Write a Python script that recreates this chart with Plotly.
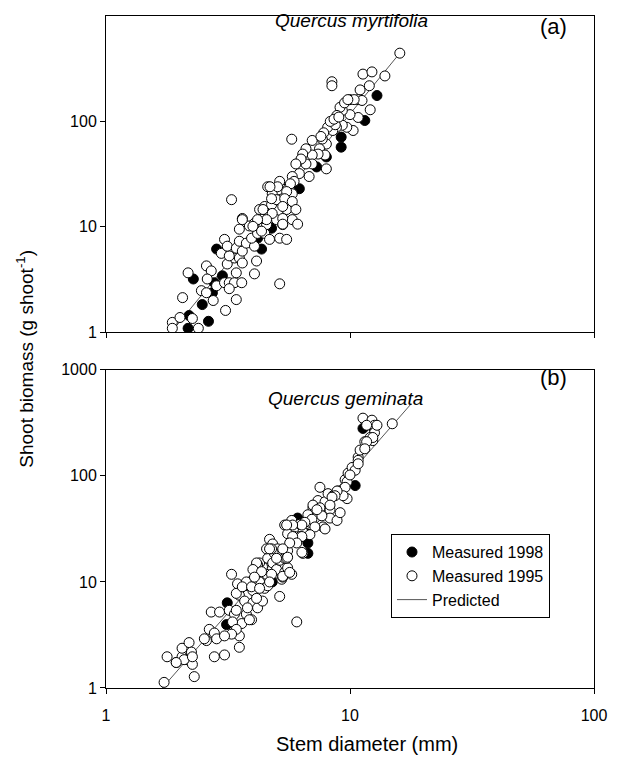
import plotly.graph_objects as go

# ---------------- Panel (a): Quercus myrtifolia ----------------
a98_x = [2.28, 2.17, 2.19, 2.63, 2.48, 2.73, 2.84, 2.78, 3.0, 4.18, 4.34, 4.77, 5.15, 6.2, 7.3, 8.0, 9.2, 9.2, 11.5, 12.9]
a98_y = [3.2, 1.09, 1.44, 1.27, 1.83, 2.37, 6.15, 2.95, 3.43, 7.8, 6.15, 9.7, 18.1, 23, 37, 46, 71, 57, 102, 176]

a95_x = [3.27, 2.17, 2.06, 1.87, 1.87, 2.01, 2.39, 2.26, 2.46, 2.58, 2.75, 3.09, 3.42, 2.58, 2.70, 2.97, 3.06, 2.60,
         2.84, 3.06, 3.2, 3.36, 3.6, 3.2, 3.42, 3.14, 3.36, 3.52, 3.2, 3.14, 3.42, 3.62, 3.62, 3.52, 3.76, 4.06, 4.06,
         3.95, 4.14, 4.18, 3.52, 3.62, 3.87, 4.06, 4.47, 4.68, 4.55, 4.34, 4.26, 4.47, 4.77, 5.0, 5.3, 5.15, 5.5, 5.15,
         4.6, 4.8, 5.15, 5.3, 5.5, 5.0, 5.77, 8.43, 8.43,
         11.3, 12.3, 13.9, 11.0, 12.0, 10.8, 10.0, 11.2, 12.1, 10.3, 10.8, 10.0, 9.3, 9.1, 9.5, 9.7, 9.3, 8.8, 8.5, 8.1,
         8.0, 7.7, 7.0, 7.5, 7.9, 8.0, 7.4, 7.0, 6.6, 7.0, 6.6, 6.4, 6.3, 6.8, 6.0, 6.2, 5.8, 5.9, 5.7, 5.8, 5.5, 5.15,
         5.05, 4.7, 5.4, 5.8, 6.0, 5.8, 6.1, 5.3, 4.77, 4.4, 4.8, 5.3, 5.3, 4.55, 4.18, 4.0, 3.62, 4.34,
         16.0, 10.4, 9.8, 8.84, 8.7, 8.3, 8.6, 9.0, 7.8, 7.6]
a95_y = [18.1, 3.66, 2.13, 1.24, 1.09, 1.38, 1.09, 1.35, 2.48, 2.37, 2.0, 1.61, 2.04, 4.26, 3.82, 5.6, 7.6, 3.2,
         2.76, 2.95, 2.95, 2.95, 2.95, 2.59, 3.66, 4.44, 5.06, 5.06, 5.3, 6.55, 6.27, 5.88, 4.54, 7.3, 7.0, 3.58, 6.55,
         7.8, 4.74, 8.66, 9.5, 12.0, 10.2, 10.8, 8.66, 7.6, 10.5, 12.0, 14.6, 15.6, 16.2, 11.7, 10.5, 7.8, 7.6, 2.88,
         24, 20.6, 25.6, 18.5, 14.6, 18.1, 67.8, 238, 218,
         281, 295, 270, 199, 218, 161, 161, 158, 129, 82, 109, 116, 127, 136, 150, 88, 92, 88, 82, 88,
         61, 68, 66, 55, 48, 35.5, 49, 48, 55, 39.5, 39.5, 49, 44, 30, 39.5, 32, 30, 27, 25.6, 20.6, 21.6, 27,
         24, 24, 18.5, 17.4, 14.6, 11.7, 10.6, 15.6, 18.5, 14.6, 13.4, 12.0, 10.6, 11.7, 11.7, 10.1, 11.7, 9.1,
         444, 161, 161, 114, 93, 100, 105, 110, 78, 72]

a_pred_x = [1.85, 16.2]
a_pred_y = [1.0, 460]

# ---------------- Panel (b): Quercus geminata ----------------
b98_x = [3.12, 3.14, 4.8, 5.15, 6.1, 6.66, 6.72, 6.72, 10.5, 11.3, 12.4]
b98_y = [3.96, 6.35, 10.0, 17.8, 40, 28.5, 23.3, 18.6, 81, 280, 290]

b95_x = [1.73, 2.30, 1.78, 1.94, 2.05, 2.15, 2.26, 2.05, 2.19, 2.24, 2.58, 2.65, 2.78, 2.78, 3.06, 2.84, 2.70, 2.92,
         3.2, 3.36, 3.36, 3.52, 3.52, 3.6, 3.76, 3.95, 3.27, 3.46, 3.62, 3.8, 3.52, 3.7, 4.0, 4.18, 4.38, 4.06, 4.26,
         4.47, 3.95, 4.14, 4.38, 4.55, 4.26, 4.6, 4.82, 5.0, 5.25, 5.4, 5.55, 5.15, 5.77, 6.05, 4.55, 4.68, 4.9, 4.82,
         5.05, 5.3, 5.5, 5.15, 5.4, 5.4, 5.55, 5.77, 6.23, 6.41, 6.23, 5.94, 6.41, 6.85, 7.18, 7.53, 7.05, 7.39, 7.53,
         7.90, 8.28, 7.75, 8.28, 8.85, 8.13, 8.52, 8.94, 9.73, 9.55, 9.82, 10.3, 10.8,
         11.3, 12.3, 12.6, 14.9, 12.6, 12.1, 11.5, 12.4, 11.0, 10.2, 10.5, 9.73, 9.55, 9.37, 8.85, 8.68, 9.11,
         4.77, 5.5, 5.55, 5.0, 4.18, 4.77, 5.3, 4.6, 3.87, 4.0, 3.42, 4.14, 3.42, 3.8, 3.87, 3.3, 3.42, 3.27, 3.06,
         2.53, 2.09, 1.94, 2.26,
         12.9, 11.7, 12.4, 11.7, 10.8, 11.5, 10.8, 10.0, 8.44, 7.05, 7.53, 8.28, 7.67, 7.32, 6.72, 6.98, 6.53,
         6.35, 5.82, 5.5, 7.18, 7.9, 6.85, 6.35, 5.82, 6.05, 5.66, 6.35, 4.68, 5.3, 5.55, 4.14, 4.0, 4.34, 4.68,
         5.3, 5.66, 3.76, 3.62, 3.95, 4.26, 4.06]
b95_y = [1.13, 1.28, 1.97, 1.74, 1.97, 1.85, 1.67, 2.37, 2.68, 2.18, 2.8, 3.57, 3.3, 1.97, 2.05, 2.91, 5.2, 5.2,
         5.4, 4.97, 3.3, 3.1, 2.42, 4.05, 4.97, 4.4, 11.8, 9.6, 8.7, 7.5, 7.5, 6.6, 6.35, 5.7, 6.6, 8.7, 10.0,
         8.7, 10.2, 12.5, 13.9, 11.8, 15.1, 16.7, 15.1, 13.1, 10.6, 12.3, 13.6, 7.3, 11.8, 4.2, 20.5, 25.2, 18.6, 22.8,
         20.5, 19.7, 17.8, 16.0, 16.7, 34.4, 28.5, 38, 35, 29.6, 26.8, 26.8, 18.6, 36.5, 40, 48, 50, 58.5, 78,
         57, 48, 33, 40, 38, 68, 65, 72, 61, 92, 106, 118, 150,
         350, 335, 300, 310, 255, 230, 210, 215, 175, 120, 113, 88, 78, 65, 72, 65, 45,
         20.5, 16.7, 19.7, 16.7, 14.5, 11.8, 11.1, 9.2, 9.6, 8.3, 7.8, 7.0, 5.4, 5.7, 4.4, 4.2, 3.57, 3.22, 3.1,
         2.91, 1.85, 1.74, 1.97,
         300, 300, 230, 210, 140, 180, 130, 102, 63, 53, 50, 53, 42, 48, 43, 39, 36.5,
         34.4, 34.4, 34.4, 33, 31.6, 27.9, 26.8, 26.8, 23.3, 23.3, 19, 20.5, 20.5, 17.1, 15.1, 13.1, 12.5, 10.0,
         11.3, 12.3, 10.0, 9.0, 9.0, 8.7, 11.1]

b_pred_x = [1.7, 17.7]
b_pred_y = [1.0, 470]

FONT = "Liberation Sans, Arial, sans-serif"

open_marker = dict(symbol="circle", size=10, color="white", line=dict(color="black", width=1))
fill_marker = dict(symbol="circle", size=10, color="black", line=dict(color="black", width=1))
pred_line = dict(color="#555555", width=1)

fig = go.Figure()

# panel (a)
fig.add_trace(go.Scatter(x=a_pred_x, y=a_pred_y, mode="lines", line=pred_line, showlegend=False,
                         xaxis="x", yaxis="y", hoverinfo="skip"))
fig.add_trace(go.Scatter(x=a98_x, y=a98_y, mode="markers", marker=fill_marker, showlegend=False,
                         xaxis="x", yaxis="y"))
fig.add_trace(go.Scatter(x=a95_x, y=a95_y, mode="markers", marker=open_marker, showlegend=False,
                         xaxis="x", yaxis="y"))

# panel (b)
fig.add_trace(go.Scatter(x=b_pred_x, y=b_pred_y, mode="lines", line=pred_line, name="Predicted",
                         legendrank=3, xaxis="x2", yaxis="y2", hoverinfo="skip"))
fig.add_trace(go.Scatter(x=b98_x, y=b98_y, mode="markers", marker=fill_marker, name="Measured 1998",
                         legendrank=1, xaxis="x2", yaxis="y2"))
fig.add_trace(go.Scatter(x=b95_x, y=b95_y, mode="markers", marker=open_marker, name="Measured 1995",
                         legendrank=2, xaxis="x2", yaxis="y2"))

axis_common = dict(type="log", showline=True, linecolor="black", linewidth=1, mirror=True,
                   ticks="outside", ticklen=5, tickcolor="black", showgrid=False, zeroline=False,
                   tickfont=dict(family=FONT, size=16, color="black"))

# The page adds an 8 px body margin, so the figure is sized to fit inside the window.
fig.update_layout(
    width=602, height=753,
    margin=dict(l=98, r=16, t=0, b=73),
    paper_bgcolor="white", plot_bgcolor="white",
    font=dict(family=FONT, size=16, color="black"),
    xaxis=dict(axis_common, range=[0, 2], tickvals=[1, 10, 100], showticklabels=False, anchor="y"),
    yaxis=dict(axis_common, range=[0, 3], tickvals=[1, 10, 100], ticktext=["1", "10", "100"],
               domain=[0.5294, 1], anchor="x"),
    xaxis2=dict(axis_common, range=[0, 2], tickvals=[1, 10, 100], ticktext=["1", "10", "100"], anchor="y2",
                ticklabelstandoff=8),
    yaxis2=dict(axis_common, range=[0, 3], tickvals=[1, 10, 100, 1000], ticktext=["1", "10", "100", "1000"],
                domain=[0, 0.4735], anchor="x2"),
    legend=dict(x=0.584, y=0.229, xanchor="left", yanchor="top", bgcolor="white",
                bordercolor="black", borderwidth=1, font=dict(family=FONT, size=16),
                tracegroupgap=0, itemwidth=30),
    showlegend=True,
    annotations=[
        dict(text="<i>Quercus myrtifolia</i>", xref="paper", yref="paper", x=0.504, y=0.994,
             xanchor="center", yanchor="middle", showarrow=False, font=dict(family=FONT, size=19)),
        dict(text="(a)", xref="paper", yref="paper", x=0.917, y=0.985,
             xanchor="center", yanchor="middle", showarrow=False, font=dict(family=FONT, size=22)),
        dict(text="<i>Quercus geminata</i>", xref="paper", yref="paper", x=0.49, y=0.431,
             xanchor="center", yanchor="middle", showarrow=False, font=dict(family=FONT, size=19)),
        dict(text="(b)", xref="paper", yref="paper", x=0.917, y=0.462,
             xanchor="center", yanchor="middle", showarrow=False, font=dict(family=FONT, size=22)),
        dict(text="Stem diameter (mm)", xref="paper", yref="paper", x=0.535, y=-0.084,
             xanchor="center", yanchor="middle", showarrow=False, font=dict(family=FONT, size=20)),
        dict(text="Shoot biomass (g shoot<sup>-1</sup>)", xref="paper", yref="paper", x=-0.166, y=0.49,
             xanchor="center", yanchor="middle", textangle=-90, showarrow=False,
             font=dict(family=FONT, size=19)),
    ],
)

fig.write_html("out.html")
